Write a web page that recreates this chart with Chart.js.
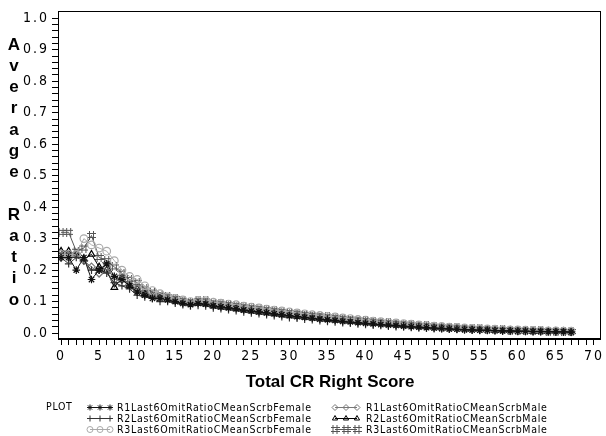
<!DOCTYPE html>
<html>
<head>
<meta charset="utf-8">
<script src="https://cdn.jsdelivr.net/npm/chart.js@4/dist/chart.umd.min.js"></script>
<style>
  html, body { margin: 0; padding: 0; background: #fff; }
  canvas { display: block; }
</style>
</head>
<body>
<canvas id="ratioChart" width="606" height="436"></canvas>
<script>
// Total CR right score (x axis)
const scores = [0, 1, 2, 3, 4, 5, 6, 7, 8, 9, 10, 11, 12, 13, 14, 15, 16, 17, 18, 19,
  20, 21, 22, 23, 24, 25, 26, 27, 28, 29, 30, 31, 32, 33, 34, 35, 36, 37, 38, 39,
  40, 41, 42, 43, 44, 45, 46, 47, 48, 49, 50, 51, 52, 53, 54, 55, 56, 57, 58, 59,
  60, 61, 62, 63, 64, 65, 66, 67];

// average ratio per score, one list per plot variable
const r1Female = [0.24, 0.24, 0.20, 0.24, 0.17, 0.20, 0.22, 0.18, 0.17, 0.15, 0.13, 0.12, 0.11, 0.11, 0.105, 0.10,
  0.094, 0.090, 0.094, 0.092, 0.086, 0.083, 0.080, 0.077, 0.073, 0.070,
  0.067, 0.064, 0.061, 0.058, 0.055, 0.052, 0.050, 0.047, 0.044, 0.042,
  0.040, 0.037, 0.035, 0.033, 0.031, 0.029, 0.027, 0.025, 0.024, 0.022,
  0.020, 0.019, 0.017, 0.016, 0.015, 0.013, 0.012, 0.011, 0.010, 0.009,
  0.009, 0.008, 0.007, 0.007, 0.006, 0.006, 0.005, 0.005, 0.004, 0.004,
  0.004, 0.003];
const r2Female = [0.24, 0.22, 0.24, 0.23, 0.20, 0.20, 0.19, 0.16, 0.15, 0.14, 0.12, 0.115, 0.11, 0.10, 0.10, 0.095,
  0.090, 0.086, 0.088, 0.086, 0.080, 0.077, 0.074, 0.071, 0.067, 0.064,
  0.061, 0.058, 0.055, 0.052, 0.049, 0.047, 0.044, 0.042, 0.039, 0.037,
  0.035, 0.033, 0.031, 0.029, 0.027, 0.025, 0.024, 0.022, 0.020, 0.019,
  0.018, 0.016, 0.015, 0.014, 0.013, 0.012, 0.011, 0.010, 0.009, 0.008,
  0.008, 0.007, 0.006, 0.006, 0.005, 0.005, 0.004, 0.004, 0.004, 0.003,
  0.003, 0.003];
const r3Female = [0.25, 0.25, 0.25, 0.30, 0.28, 0.27, 0.26, 0.23, 0.20, 0.18, 0.17, 0.15, 0.135, 0.125, 0.115, 0.11,
  0.105, 0.100, 0.104, 0.103, 0.098, 0.095, 0.092, 0.090, 0.085, 0.082,
  0.080, 0.076, 0.073, 0.070, 0.067, 0.064, 0.061, 0.058, 0.056, 0.053,
  0.051, 0.048, 0.046, 0.043, 0.041, 0.038, 0.036, 0.034, 0.032, 0.030,
  0.028, 0.026, 0.024, 0.022, 0.021, 0.019, 0.018, 0.016, 0.015, 0.014,
  0.013, 0.012, 0.011, 0.010, 0.010, 0.009, 0.008, 0.008, 0.007, 0.007,
  0.006, 0.006];
const r1Male = [0.24, 0.24, 0.25, 0.23, 0.21, 0.19, 0.21, 0.17, 0.17, 0.155, 0.14, 0.13, 0.12, 0.115, 0.11, 0.105,
  0.100, 0.096, 0.099, 0.097, 0.092, 0.089, 0.087, 0.083, 0.080, 0.077,
  0.073, 0.070, 0.068, 0.064, 0.061, 0.059, 0.056, 0.053, 0.050, 0.048,
  0.045, 0.043, 0.040, 0.038, 0.036, 0.034, 0.032, 0.030, 0.028, 0.026,
  0.024, 0.022, 0.021, 0.019, 0.018, 0.016, 0.015, 0.014, 0.013, 0.012,
  0.011, 0.010, 0.009, 0.008, 0.008, 0.007, 0.007, 0.006, 0.006, 0.005,
  0.005, 0.004];
const r2Male = [0.26, 0.26, 0.25, 0.235, 0.25, 0.21, 0.20, 0.145, 0.175, 0.15, 0.14, 0.125, 0.12, 0.115, 0.11, 0.105,
  0.098, 0.095, 0.098, 0.096, 0.090, 0.088, 0.085, 0.082, 0.078, 0.075,
  0.072, 0.069, 0.066, 0.063, 0.060, 0.057, 0.054, 0.052, 0.049, 0.046,
  0.044, 0.041, 0.039, 0.037, 0.035, 0.033, 0.031, 0.029, 0.027, 0.025,
  0.023, 0.022, 0.020, 0.019, 0.017, 0.016, 0.015, 0.013, 0.012, 0.011,
  0.010, 0.009, 0.009, 0.008, 0.007, 0.007, 0.006, 0.006, 0.005, 0.005,
  0.005, 0.004];
const r3Male = [0.32, 0.32, 0.26, 0.27, 0.31, 0.24, 0.23, 0.21, 0.19, 0.17, 0.16, 0.14, 0.13, 0.12, 0.115, 0.11,
  0.103, 0.098, 0.103, 0.102, 0.095, 0.093, 0.090, 0.087, 0.083, 0.080,
  0.077, 0.074, 0.071, 0.068, 0.065, 0.062, 0.059, 0.056, 0.054, 0.051,
  0.049, 0.046, 0.044, 0.041, 0.039, 0.036, 0.034, 0.032, 0.030, 0.028,
  0.026, 0.024, 0.023, 0.021, 0.019, 0.018, 0.017, 0.015, 0.014, 0.013,
  0.012, 0.011, 0.010, 0.009, 0.009, 0.008, 0.007, 0.007, 0.006, 0.006,
  0.005, 0.005];

const seriesNames = [
  'R1Last6OmitRatioCMeanScrbFemale', 'R2Last6OmitRatioCMeanScrbFemale', 'R3Last6OmitRatioCMeanScrbFemale',
  'R1Last6OmitRatioCMeanScrbMale', 'R2Last6OmitRatioCMeanScrbMale', 'R3Last6OmitRatioCMeanScrbMale'
];

const tickFont = '"Liberation Sans Narrow", "DejaVu Sans Condensed", sans-serif';
const titleFont = '"Liberation Sans", Arial, sans-serif';

// '#' shaped marker, SAS style
function hashMark(color) {
  const c = document.createElement('canvas');
  c.width = 9; c.height = 9;
  const g = c.getContext('2d');
  g.strokeStyle = color;
  g.lineWidth = 1;
  g.beginPath();
  g.moveTo(2.5, 0); g.lineTo(2.5, 9);
  g.moveTo(6.5, 0); g.lineTo(6.5, 9);
  g.moveTo(0, 2.5); g.lineTo(9, 2.5);
  g.moveTo(0, 6.5); g.lineTo(9, 6.5);
  g.stroke();
  return c;
}

function makeSet(label, values, color, style) {
  return {
    label: label,
    data: scores.map((s, i) => ({ x: s, y: values[i] })),
    borderColor: color,
    backgroundColor: 'rgba(0,0,0,0)',
    borderWidth: 1,
    pointStyle: style,
    pointRadius: 3.8,
    pointBorderColor: color,
    pointBorderWidth: 1.2,
    tension: 0
  };
}

const datasets = [
  makeSet(seriesNames[0], r1Female, '#111', 'star'),
  makeSet(seriesNames[1], r2Female, '#333', 'cross'),
  makeSet(seriesNames[2], r3Female, '#aaa', 'circle'),
  makeSet(seriesNames[3], r1Male, '#777', 'rectRot'),
  makeSet(seriesNames[4], r2Male, '#000', 'triangle'),
  makeSet(seriesNames[5], r3Male, '#555', hashMark('#555'))
];

// frame, axis titles and the PLOT legend
const decorations = {
  id: 'decorations',
  beforeDraw(chart) {
    chart.ctx.letterSpacing = '2px';
  },
  afterDraw(chart) {
    const ctx = chart.ctx;
    const a = chart.chartArea;
    ctx.save();
    ctx.letterSpacing = '0px';
    ctx.strokeStyle = '#000';
    ctx.lineWidth = 1;
    ctx.strokeRect(Math.round(a.left) + 0.5, Math.round(a.top) + 0.5,
      Math.round(a.right - a.left) - 1, Math.round(a.bottom - a.top) - 1);

    ctx.fillStyle = '#000';
    ctx.font = 'bold 17px ' + titleFont;
    ctx.textAlign = 'center';
    ctx.textBaseline = 'middle';
    const yTitle = ['A', 'v', 'e', 'r', 'a', 'g', 'e', '', 'R', 'a', 't', 'i', 'o'];
    yTitle.forEach((ch, i) => ctx.fillText(ch, 14, 45 + i * 21.25));
    ctx.fillText('Total CR Right Score', 330, 382);

    // legend
    ctx.font = '10.5px ' + tickFont;
    ctx.letterSpacing = '0.7px';
    ctx.textAlign = 'left';
    ctx.fillText('PLOT', 46, 407);
    const cols = [{ x1: 90, x2: 110, tx: 117 }, { x1: 335, x2: 357, tx: 366 }];
    chart.data.datasets.forEach((ds, i) => {
      const col = cols[Math.floor(i / 3)];
      const y = 407 + (i % 3) * 11;
      ctx.strokeStyle = ds.borderColor;
      ctx.fillStyle = 'rgba(0,0,0,0)';
      ctx.lineWidth = 1;
      ctx.beginPath();
      ctx.moveTo(col.x1, y + 0.5);
      ctx.lineTo(col.x2, y + 0.5);
      ctx.stroke();
      [col.x1, (col.x1 + col.x2) / 2, col.x2].forEach(px => {
        Chart.helpers.drawPoint(ctx, { pointStyle: ds.pointStyle, radius: 3, rotation: 0, borderWidth: 1 }, px, y + 0.5);
      });
      ctx.fillStyle = '#000';
      ctx.fillText(ds.label, col.tx, y + 1);
    });
    ctx.restore();
  }
};

const ctx = document.getElementById('ratioChart').getContext('2d');
const ratioChart = new Chart(ctx, {
  type: 'line',
  data: { datasets: datasets },
  options: {
    responsive: false,
    animation: false,
    layout: { padding: { top: 8, right: 2, left: 0, bottom: 0 } },
    plugins: { legend: { display: false }, tooltip: { enabled: false } },
    scales: {
      x: {
        type: 'linear',
        min: -0.4,
        max: 70.9,
        afterBuildTicks: scale => {
          const t = [];
          for (let v = 0; v <= 70; v++) t.push({ value: v });
          scale.ticks = t;
        },
        afterFit: scale => { scale.height = 97; },
        ticks: {
          autoSkip: false,
          maxRotation: 0,
          padding: 3,
          color: '#000',
          font: { family: tickFont, size: 14 },
          callback: v => (v % 5 === 0 ? String(v) : '')
        },
        grid: { drawOnChartArea: false, tickLength: 6, tickColor: '#000', color: '#000' },
        border: { color: '#000', width: 1 }
      },
      y: {
        min: -0.019,
        max: 1.022,
        afterBuildTicks: scale => {
          const t = [];
          for (let i = 0; i <= 50; i++) t.push({ value: i / 50 });
          scale.ticks = t;
        },
        afterFit: scale => { scale.width = 58; },
        ticks: {
          autoSkip: false,
          padding: 3,
          color: '#000',
          font: { family: tickFont, size: 14 },
          callback: v => {
            const i = Math.round(v * 50);
            return i % 5 === 0 ? (i / 50).toFixed(1) : '';
          }
        },
        grid: { drawOnChartArea: false, tickLength: 6, tickColor: '#000', color: '#000' },
        border: { color: '#000', width: 1 }
      }
    }
  },
  plugins: [decorations]
});
</script>
</body>
</html>
